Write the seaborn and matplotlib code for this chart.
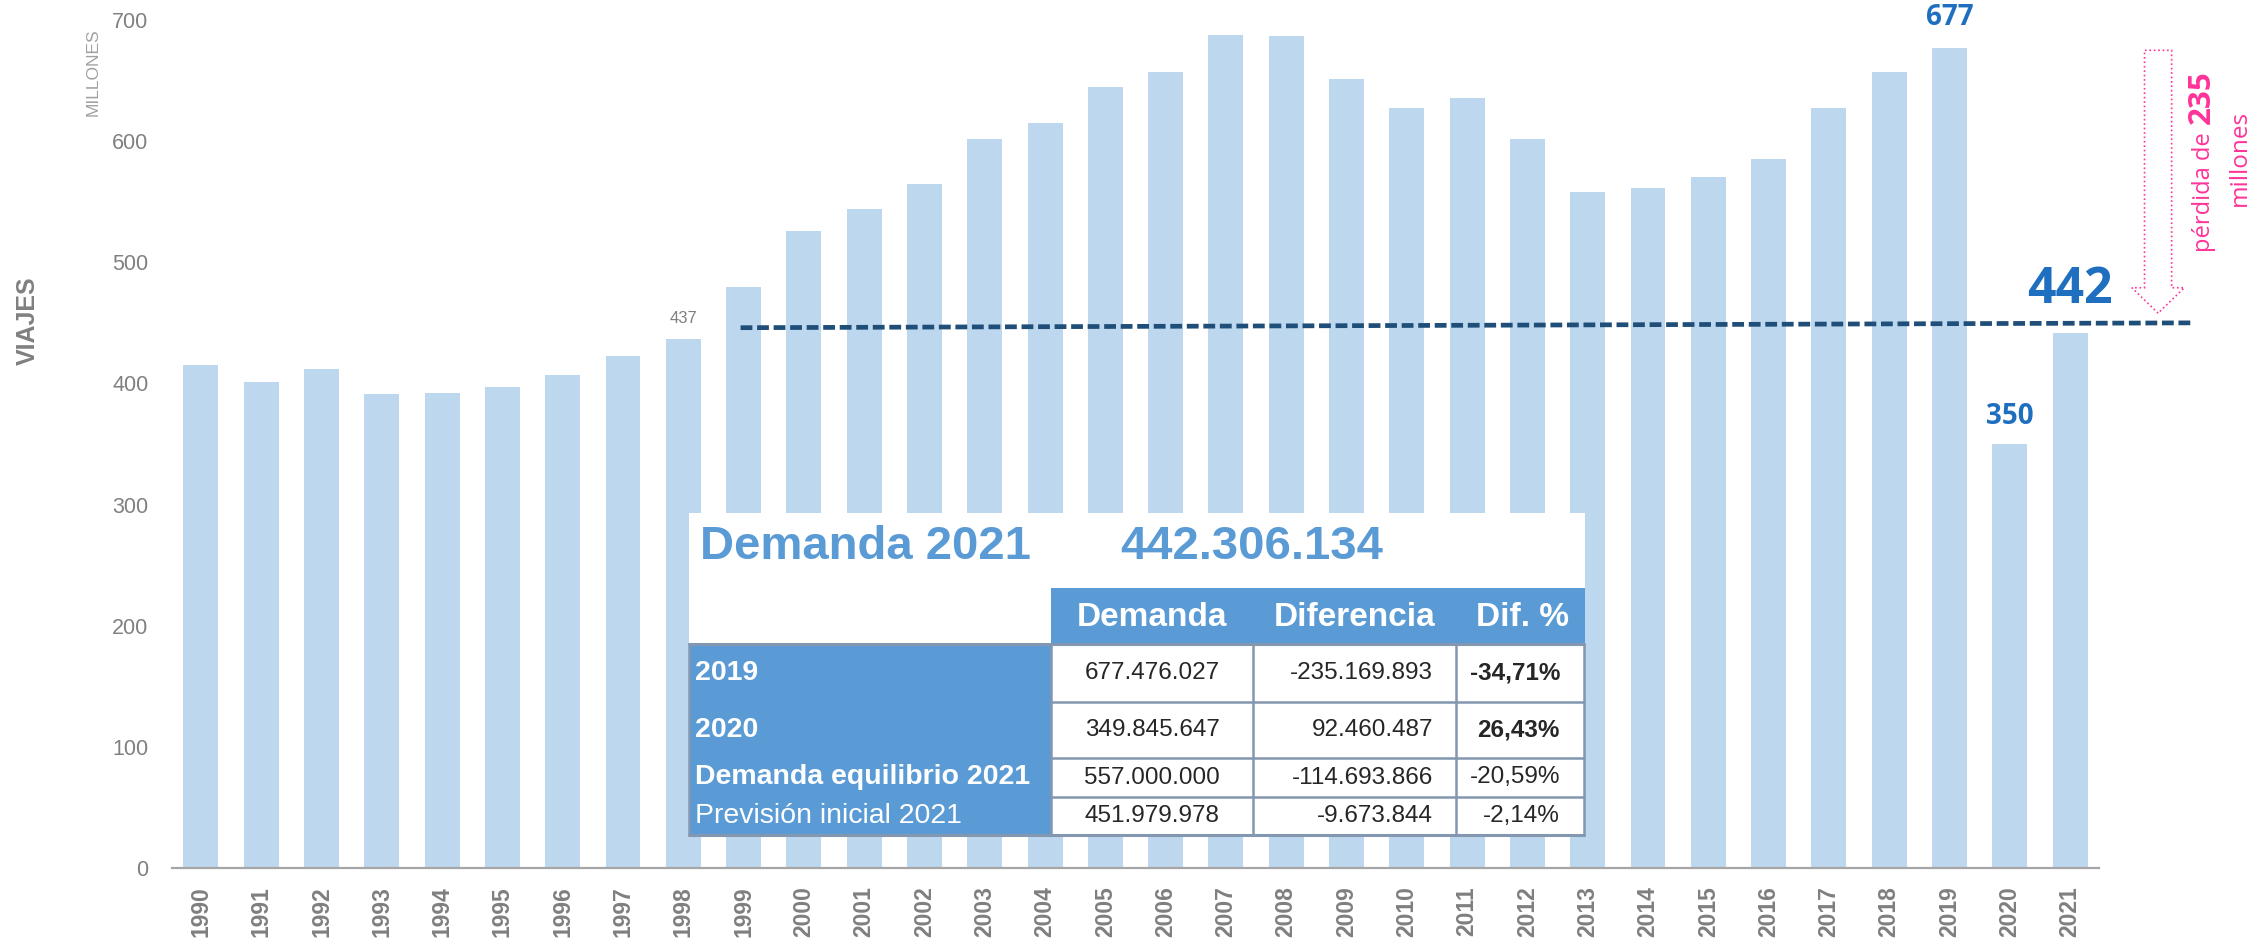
import matplotlib
matplotlib.use('Agg')
import matplotlib.pyplot as plt
import matplotlib.patches as mpatches
import numpy as np
import pandas as pd
import seaborn as sns

# datos
anios = [str(a) for a in range(1990, 2022)]
viajes = [415, 401, 412, 391, 392, 397, 407, 423, 437, 480, 526, 544, 565, 602, 615, 645,
          657, 688, 687, 651, 627, 636, 602, 558, 561, 570, 585, 627, 657, 677, 350, 442]
nivel_linea = [446, 450]       # linea discontinua (inicio, fin)
perdida = 235

tabla_titulo = 'Demanda 2021'
tabla_total = '442.306.134'
tabla_cols = ['Demanda', 'Diferencia', 'Dif. %']
tabla_filas = ['2019', '2020', 'Demanda equilibrio 2021', 'Previsión inicial 2021']
tabla_demanda = ['677.476.027', '349.845.647', '557.000.000', '451.979.978']
tabla_diferencia = ['-235.169.893', '92.460.487', '-114.693.866', '-9.673.844']
tabla_pct = ['-34,71%', '26,43%', '-20,59%', '-2,14%']

BAR = '#BDD7EE'
AZUL = '#5B9BD5'
AZUL_TXT = '#1F6FC0'
OSCURO = '#1F4E79'
ROSA = '#FF3399'
GRIS = '#808080'
REJILLA = '#8497B0'

sns.set_style('white')
plt.rcParams['font.family'] = ['Liberation Sans', 'DejaVu Sans']

W, H = 2267, 944
fig = plt.figure(figsize=(W / 100, H / 100), dpi=100)
ax = fig.add_axes([172 / W, 1 - 868 / H, (2099 - 172) / W, (868 - 20) / H])

df = pd.DataFrame({'anio': anios, 'viajes': viajes})
sns.barplot(data=df, x='anio', y='viajes', color=BAR, saturation=1, width=0.58,
            linewidth=0, ax=ax)

ax.set_ylim(0, 700)
ax.set_xlim(-0.48, 31.48)
ax.set_yticks(range(0, 701, 100))
ax.set_xlabel('')
ax.set_ylabel('')
for s in ['left', 'top', 'right']:
    ax.spines[s].set_visible(False)
ax.spines['bottom'].set_color('#A6A6A6')
ax.spines['bottom'].set_linewidth(1.6)
ax.tick_params(axis='y', length=0, pad=17, labelsize=15.5, labelcolor=GRIS)
ax.tick_params(axis='x', length=0, pad=13, labelsize=16.5, labelcolor='#7F7F7F')
for lab in ax.get_xticklabels():
    lab.set_rotation(90)
    lab.set_fontweight('bold')

fig.text(28 / W, 1 - 321 / H, 'VIAJES', rotation=90, ha='center', va='center',
         fontsize=18, fontweight='bold', color=GRIS)
fig.text(93 / W, 1 - 72 / H, 'MILLONES', rotation=90, ha='center', va='center',
         fontsize=12.5, color='#A0A0A0')

# etiquetas de valores
ax.text(8, viajes[8] + 17, str(viajes[8]), ha='center', va='center', fontsize=12, color=GRIS)
ax.text(29, viajes[29] + 25, str(viajes[29]), ha='center', va='center', fontsize=20,
        fontweight='bold', color=AZUL_TXT, family='Open Sans', clip_on=False)
ax.text(30, viajes[30] + 23, str(viajes[30]), ha='center', va='center', fontsize=20,
        fontweight='bold', color=AZUL_TXT, family='Open Sans')
ax.text(31, viajes[31] + 35, str(viajes[31]), ha='center', va='center', fontsize=36,
        fontweight='bold', color=AZUL_TXT, family='Open Sans')

# linea discontinua
ax.plot([8.95, 33.05], nivel_linea, color=OSCURO, lw=3.4, dashes=(2.5, 1.0),
        clip_on=False, zorder=4)

# flecha de perdida
flecha = mpatches.FancyArrow(32.46, viajes[29] - 2, 0, -(viajes[29] - 2 - 458), width=0.45,
                             head_width=0.87, head_length=21, length_includes_head=True,
                             fc='white', ec=ROSA, ls=':', lw=1.2, clip_on=False, zorder=5)
ax.add_patch(flecha)
ax.text(33.32, 612, 'pérdida de ', rotation=90, rotation_mode='anchor', ha='right',
        va='baseline', fontsize=17, color=ROSA, family='Open Sans', clip_on=False)
ax.text(33.32, 614, str(perdida), rotation=90, rotation_mode='anchor', ha='left',
        va='baseline', fontsize=22.5, fontweight='bold', color=ROSA, family='Open Sans',
        clip_on=False)
ax.text(33.92, 586, 'millones', rotation=90, rotation_mode='anchor', ha='center',
        va='baseline', fontsize=17.5, color=ROSA, family='Open Sans', clip_on=False)

# tabla
x0, x1, y0, y1 = 689, 1585, 513, 836
axt = fig.add_axes([x0 / W, 1 - y1 / H, (x1 - x0) / W, (y1 - y0) / H])
axt.set_xlim(x0, x1)
axt.set_ylim(y1, y0)
axt.axis('off')

filas_y = [644, 702, 758, 797, 835]
cols_x = [689, 1051, 1253, 1456, 1584]

axt.add_patch(mpatches.Rectangle((x0, y0), x1 - x0, y1 - y0, fc='white', ec='none'))
axt.add_patch(mpatches.Rectangle((cols_x[1], 588), x1 - cols_x[1], filas_y[0] - 588, fc=AZUL, ec='none'))
axt.add_patch(mpatches.Rectangle((cols_x[0], filas_y[0]), cols_x[1] - cols_x[0],
                                 filas_y[-1] - filas_y[0], fc=AZUL, ec='none'))

axt.plot([cols_x[0], cols_x[-1]], [filas_y[0]] * 2, color=REJILLA, lw=2.2, clip_on=False)
axt.plot([cols_x[0], cols_x[-1]], [filas_y[-1]] * 2, color=REJILLA, lw=2.2, clip_on=False)
for yy in filas_y[1:-1]:
    axt.plot([cols_x[1], cols_x[-1]], [yy, yy], color=REJILLA, lw=1.8, clip_on=False)
for xx in cols_x:
    axt.plot([xx, xx], [filas_y[0], filas_y[-1]], color=REJILLA, lw=1.8, clip_on=False)

axt.text(700, 547, tabla_titulo, fontsize=34, fontweight='bold', color=AZUL, ha='left', va='center')
axt.text(1120, 547, tabla_total, fontsize=34, fontweight='bold', color=AZUL, ha='left', va='center')

for i, c in enumerate(tabla_cols):
    cx = [1152, 1355, 1523][i]
    axt.text(cx, 618, c, fontsize=24, fontweight='bold', color='white', ha='center', va='center')

for i, nombre in enumerate(tabla_filas):
    cy = (filas_y[i] + filas_y[i + 1]) / 2
    axt.text(695, cy, nombre, fontsize=20.5, color='white', ha='left', va='center',
             fontweight='bold' if i < 3 else 'normal')
    axt.text(1152, cy, tabla_demanda[i], fontsize=17.5, color='#262626', ha='center', va='center')
    axt.text(1433, cy, tabla_diferencia[i], fontsize=17.5, color='#262626', ha='right', va='center')
    axt.text(1560, cy, tabla_pct[i], fontsize=17.5, color='#262626', ha='right', va='center',
             fontweight='bold' if i < 2 else 'normal')

fig.savefig('out.png', dpi=100)
